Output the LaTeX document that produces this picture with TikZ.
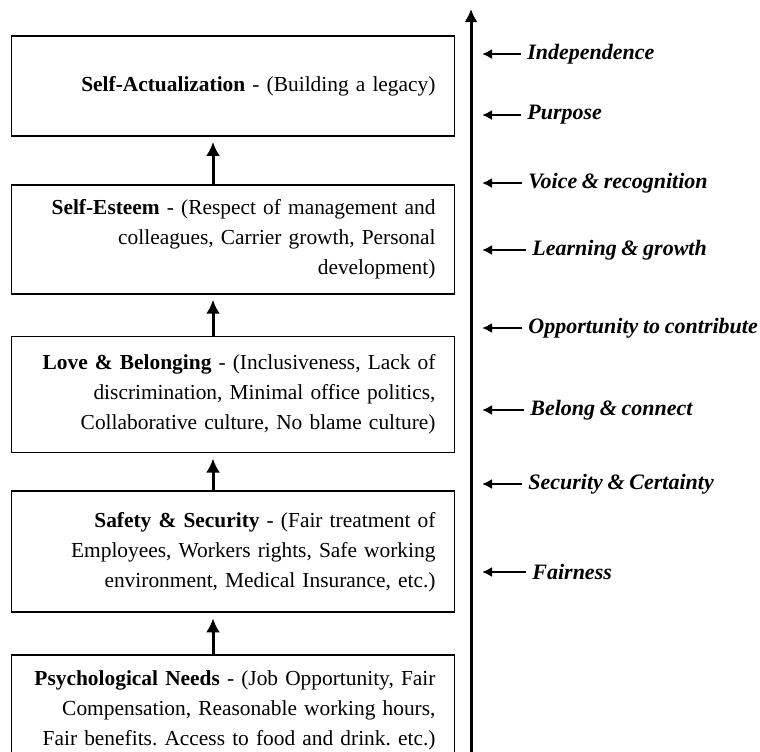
\documentclass[tikz,border=0pt]{standalone}
\usepackage{fontspec}
\setmainfont[WordSpace=0.85]{Liberation Serif}
\frenchspacing
\usetikzlibrary{matrix,arrows.meta}

\begin{document}
\begin{tikzpicture}[x=0.5pt, y=-0.5pt, >={Latex[length=7pt,width=7pt]},
	need/.style={draw, line width=0.9pt, text width=202.5pt, align=right, inner xsep=9.5pt, inner ysep=0pt, font=\fontsize{10.7}{15}\selectfont},
	cue/.style={anchor=west, inner xsep=3pt, font=\fontsize{11}{13}\selectfont\bfseries\itshape}]
\clip (0,0) rectangle (760,751);
\matrix (m) [matrix of nodes, anchor=north, inner sep=0pt, outer sep=0pt, row sep=18.5pt, nodes={need}] at (233,35)
{
	|[minimum height=50pt]| {\textbf{Self-Actualization} - (Building a legacy)} \\[5pt]
	|[minimum height=54.5pt]| {\textbf{Self-Esteem} - (Respect of management and\\ colleagues, Carrier growth, Personal\\ development)} \\[2pt]
	|[minimum height=58pt]| {\textbf{Love \& Belonging} - (Inclusiveness, Lack of\\ discrimination, Minimal office politics,\\ Collaborative culture, No blame culture)} \\
	|[minimum height=60.5pt]| {\textbf{Safety \& Security} - (Fair treatment of\\ Employees, Workers rights, Safe working\\ environment, Medical Insurance, etc.)} \\[2pt]
	|[minimum height=55pt]| {\textbf{Psychological Needs} - (Job Opportunity, Fair\\ Compensation, Reasonable working hours,\\ Fair benefits. Access to food and drink. etc.)} \\
};
\path[->, line width=1.5pt, shorten >=3pt]
([xshift=-10pt]m-2-1.north) edge ([xshift=-10pt]m-1-1.south)
([xshift=-10pt]m-3-1.north) edge ([xshift=-10pt]m-2-1.south)
([xshift=-10pt]m-4-1.north) edge ([xshift=-10pt]m-3-1.south)
([xshift=-10pt]m-5-1.north) edge ([xshift=-10pt]m-4-1.south)
;
% rising axis on the right
\coordinate (base) at (471,760);
\coordinate (peak) at (471,9);
\draw[->, line width=1.5pt, >={Latex[length=6.5pt,width=6.5pt]}] (base) -- (peak);
\foreach \ty/\tx/\txt [count=\i] in {54/527/Independence, 115/527/Purpose, 183/528/Voice \& recognition, 250/532/Learning \& growth, 328/528/Opportunity to contribute, 410/530/Belong \& connect, 484/528/Security \& Certainty, 572/532/Fairness}
{
	\node[cue] (cue\i) at (\tx-6,\ty) {\txt};
	\coordinate (tip\i) at (482,\ty);
	\draw[->, line width=1.4pt, >={Latex[length=5pt,width=5pt]}] (cue\i.west) -- (tip\i);
}
\end{tikzpicture}
\end{document}
